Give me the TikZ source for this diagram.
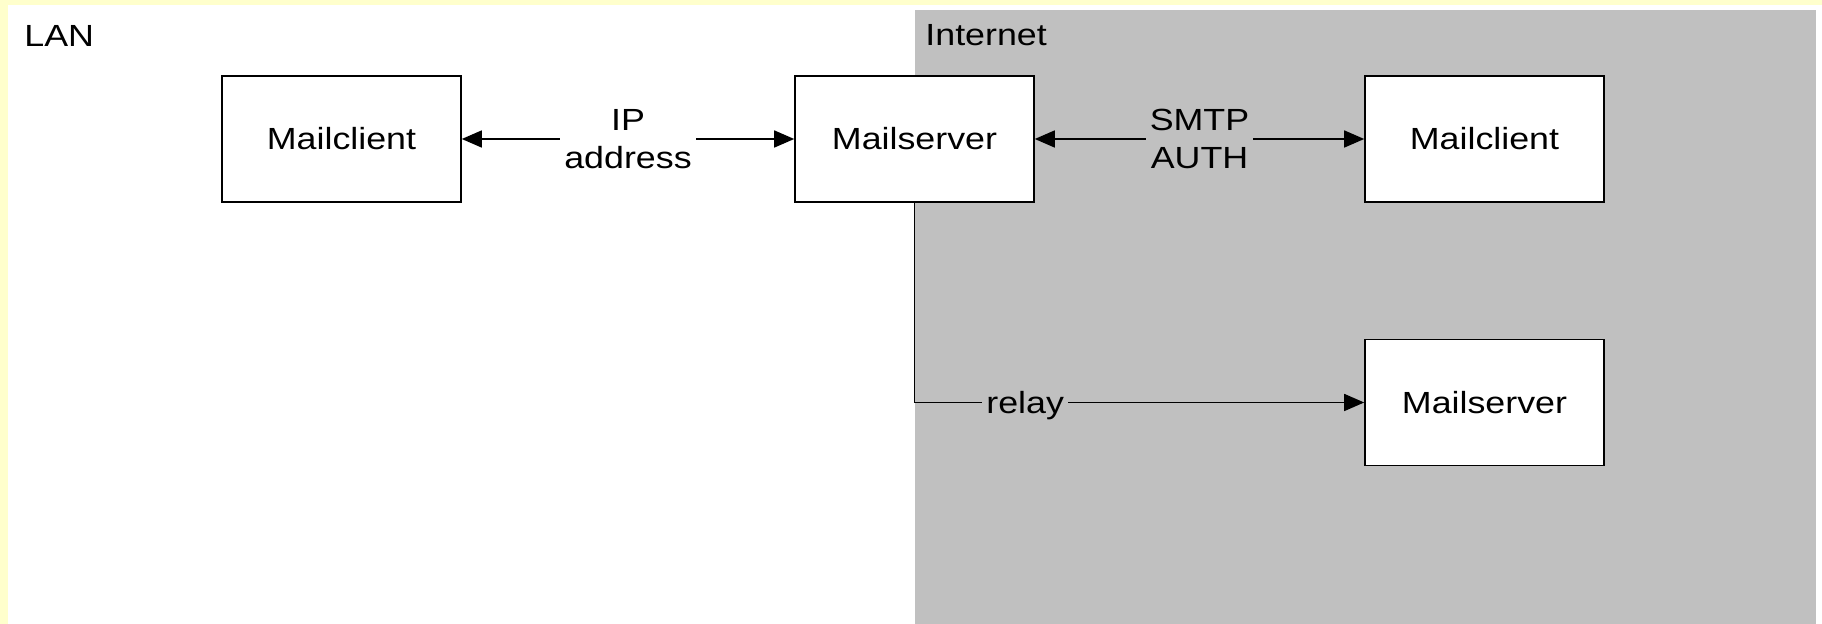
\documentclass[tikz,border=0pt]{standalone}
\usepackage{fontspec}
\setmainfont{Liberation Sans}[FakeStretch=1.17]
\usetikzlibrary{arrows.meta}
\definecolor{bgyellow}{HTML}{FFFFCC}
\definecolor{netgray}{HTML}{C0C0C0}
\tikzset{
  box/.style={draw=black, line width=0.8pt, fill=white, minimum width=119.5pt, minimum height=63pt, inner sep=0pt},
  conn/.style={line width=0.75pt, draw=black},
  tip/.style={-{Triangle[length=10pt,width=8.5pt]}},
  biarrow/.style={{Triangle[length=10pt,width=8.5pt]}-{Triangle[length=10pt,width=8.5pt]}},
  lbl/.style={align=center, inner xsep=2pt, inner ysep=1pt},
  zonelabel/.style={anchor=base west, inner sep=0pt}
}
\begin{document}
\begin{tikzpicture}[x=0.5pt,y=-0.5pt,font=\fontsize{15.3}{19}\selectfont]
\useasboundingbox (0,0) rectangle (1822,624);
% background
\fill[bgyellow] (0,0) rectangle (1822,624);
\fill[white] (8,5) rectangle (1822,624);
\fill[netgray] (915,10) rectangle (1816,624);
% zone labels
\node[zonelabel] (lan) at (24,47) {LAN};
\node[zonelabel] (inet) at (925,46) {Internet};
% boxes
\node[box] (mc1) at (341.5,139) {Mailclient};
\node[box] (ms1) at (914.5,139) {Mailserver};
\node[box] (mc2) at (1484.5,139) {Mailclient};
\node[box] (ms2) at (1484.5,402.5) {Mailserver};
% connectors
\draw[conn,biarrow] (mc1.east) -- node[lbl,fill=white] {IP\\address} (ms1.west);
\draw[conn,biarrow] (ms1.east) -- node[lbl,fill=netgray] {SMTP\\AUTH} (mc2.west);
\draw[conn,tip] (ms1.south) |- node[pos=0.623,lbl,fill=netgray,yshift=-1.5pt] {relay} (ms2.west);
\end{tikzpicture}
\end{document}
